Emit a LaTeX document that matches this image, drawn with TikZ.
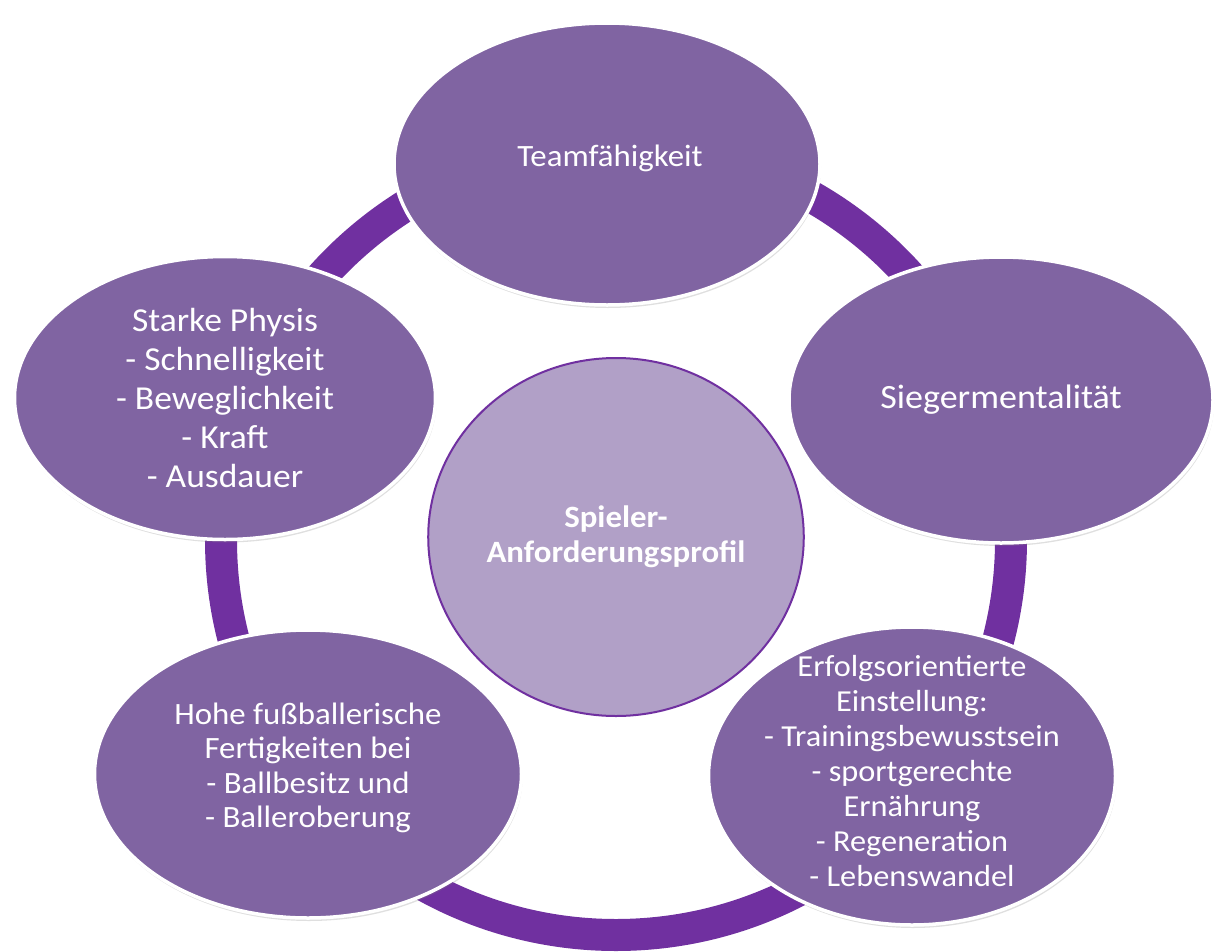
\documentclass[tikz,border=0pt]{standalone}
\usepackage{fontspec}
\setmainfont{Carlito}[FakeStretch=1.06]
\usetikzlibrary{shapes.geometric, shadows}
\definecolor{ringviolet}{HTML}{7030A0}
\definecolor{bubblefill}{HTML}{8064A2}
\definecolor{corefill}{HTML}{B1A0C7}

\begin{document}
\begin{tikzpicture}[x=1pt, y=-1pt,
			bubble/.style={ellipse, fill=bubblefill, draw=white, line width=3.5pt, inner sep=0pt,
				drop shadow={opacity=0.25, shadow xshift=1pt, shadow yshift=-3pt}},
			core/.style={ellipse, fill=corefill, draw=ringviolet, line width=2pt, text=white,
				align=center, minimum width=371pt, minimum height=358pt},
			txt/.style={text=white, align=center, inner sep=0pt},
			ring/.style={draw=ringviolet, line width=32pt}]
			% page
			\fill[white] (0,0) rectangle (1216,951);
			
			% ring behind the bubbles
			\draw[ring] (616,540) circle [radius=395pt];
			
			% bubbles
			\node[bubble, minimum width=426pt, minimum height=282pt] (team) at (607,164) {};
			\node[bubble, minimum width=421pt, minimum height=283pt] (physis) at (225,398) {};
			\node[bubble, minimum width=424pt, minimum height=286pt] (sieger) at (1001,400) {};
			\node[bubble, minimum width=427pt, minimum height=288pt] (technik) at (308,774) {};
			\node[bubble, minimum width=407pt, minimum height=298pt] (einstellung) at (912,776) {};
			
			% texts
			\node[txt, font=\fontsize{31}{37}\selectfont] (teamtxt) at (610,158) {Teamfähigkeit};
			\node[txt, font=\fontsize{33.5}{39}\selectfont] (physistxt) at (physis) {Starke Physis\\- Schnelligkeit\\- Beweglichkeit\\- Kraft\\- Ausdauer};
			\node[txt, font=\fontsize{34}{39}\selectfont] (siegertxt) at (sieger) {Siegermentalität};
			\node[txt, font=\fontsize{31}{34.5}\selectfont] (techniktxt) at (308,768) {Hohe fußballerische\\Fertigkeiten bei\\- Ballbesitz und\\- Balleroberung};
			\node[txt, font=\fontsize{30.5}{35}\selectfont] (einstellungtxt) at (912,771) {Erfolgsorientierte\\Einstellung:\\- Trainingsbewusstsein\\- sportgerechte\\Ernährung\\- Regeneration\\- Lebenswandel};
			
			% centre
			\node[core, font=\bfseries\fontsize{31}{35}\selectfont] (profil) at (616,537) {Spieler-\\Anforderungsprofil};
		\end{tikzpicture}
\end{document}
